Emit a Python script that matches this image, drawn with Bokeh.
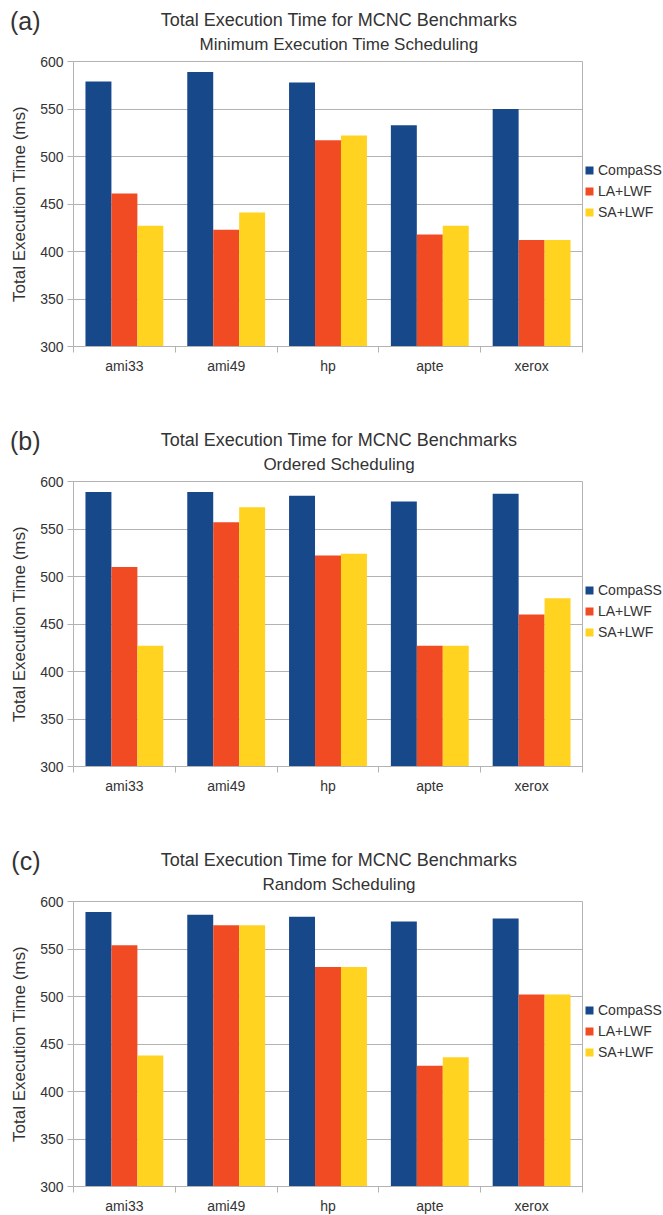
from bokeh.plotting import figure
from bokeh.models import Range1d, FixedTicker, Label, Legend, LegendItem
from bokeh.layouts import column
from bokeh.embed import file_html
from bokeh.resources import INLINE

categories = ["ami33", "ami49", "hp", "apte", "xerox"]
series_names = ["CompaSS", "LA+LWF", "SA+LWF"]
y_ticks = [300, 350, 400, 450, 500, 550, 600]

a_compass = [579, 589, 578, 533, 550]
a_la = [461, 423, 517, 418, 412]
a_sa = [427, 441, 522, 427, 412]

b_compass = [589, 589, 585, 579, 587]
b_la = [510, 557, 522, 427, 460]
b_sa = [427, 573, 524, 427, 477]

c_compass = [589, 586, 584, 579, 582]
c_la = [554, 575, 531, 427, 502]
c_sa = [438, 575, 531, 436, 502]

main_title = "Total Execution Time for MCNC Benchmarks"
panel_tags = ["(a)", "(b)", "(c)"]
subtitles = ["Minimum Execution Time Scheduling", "Ordered Scheduling", "Random Scheduling"]
y_label = "Total Execution Time (ms)"

colors = ["#17488a", "#f14b24", "#ffd320"]
GRID = "#b3b3b3"
TXT = "#333333"
FONT = "Liberation Sans"
LEFT = 73
FW = 509
RIGHT = 81
TH = 54


def make_title(tag, subtitle):
    t = figure(frame_width=FW, frame_height=TH,
               x_range=Range1d(LEFT, LEFT + FW), y_range=Range1d(TH, 0),
               x_axis_type=None,
               output_backend="svg", toolbar_location=None,
               min_border_left=LEFT, min_border_right=RIGHT,
               min_border_top=0, min_border_bottom=0,
               background_fill_color="white", border_fill_color="white")
    t.outline_line_color = None
    t.grid.visible = False
    ya = t.yaxis[0]
    ya.ticker = FixedTicker(ticks=[20])
    ya.major_label_overrides = {20: tag}
    ya.axis_line_color = None
    ya.major_tick_line_color = None
    ya.minor_tick_line_color = None
    ya.major_tick_in = 0
    ya.major_tick_out = 0
    ya.major_label_standoff = 33
    ya.major_label_text_font = FONT
    ya.major_label_text_font_size = "25px"
    ya.major_label_text_color = TXT
    t.add_layout(Label(x=338.5, y=19.5, text=main_title, text_align="center",
                       text_baseline="alphabetic", text_font=FONT,
                       text_font_size="18px", text_color=TXT))
    t.add_layout(Label(x=338.5, y=44, text=subtitle, text_align="center",
                       text_baseline="alphabetic", text_font=FONT,
                       text_font_size="17px", text_color=TXT))
    return t


def make_panel(series, bottom_border):
    p = figure(frame_width=FW, frame_height=285,
               x_range=Range1d(0, 5), y_range=Range1d(300, 600),
               output_backend="svg", toolbar_location=None,
               min_border_left=LEFT, min_border_right=RIGHT,
               min_border_top=61 - TH, min_border_bottom=bottom_border,
               background_fill_color="white", border_fill_color="white")
    p.outline_line_color = GRID
    p.outline_line_width = 1

    offsets = [-0.255, 0.0, 0.255]
    renderers = []
    for vals, off, col in zip(series, offsets, colors):
        xs = [i + 0.5 + off for i in range(len(categories))]
        r = p.vbar(x=xs, top=vals, bottom=300, width=0.255,
                   fill_color=col, line_color=None)
        renderers.append(r)

    p.xgrid.visible = False
    p.ygrid.grid_line_color = GRID
    p.ygrid.grid_line_width = 1
    p.ygrid.ticker = FixedTicker(ticks=y_ticks)

    ya = p.yaxis[0]
    ya.ticker = FixedTicker(ticks=y_ticks)
    ya.axis_line_color = GRID
    ya.major_tick_line_color = GRID
    ya.major_tick_in = 0
    ya.major_tick_out = 6
    ya.minor_tick_line_color = None
    ya.major_label_standoff = 4
    ya.major_label_text_font = FONT
    ya.major_label_text_font_size = "14px"
    ya.major_label_text_color = TXT
    ya.axis_label = y_label
    ya.axis_label_text_font = FONT
    ya.axis_label_text_font_size = "17px"
    ya.axis_label_text_font_style = "normal"
    ya.axis_label_text_color = TXT
    ya.axis_label_standoff = 8

    xa = p.xaxis[0]
    xa.ticker = FixedTicker(ticks=[i + 0.5 for i in range(len(categories))],
                            minor_ticks=list(range(len(categories) + 1)))
    xa.major_label_overrides = {i + 0.5: c for i, c in enumerate(categories)}
    xa.axis_line_color = GRID
    xa.major_tick_line_color = None
    xa.major_tick_in = 0
    xa.major_tick_out = 0
    xa.minor_tick_line_color = GRID
    xa.minor_tick_in = 0
    xa.minor_tick_out = 6
    xa.major_label_standoff = 5
    xa.major_label_text_font = FONT
    xa.major_label_text_font_size = "14px"
    xa.major_label_text_color = TXT

    legend = Legend(items=[LegendItem(label=n, renderers=[r]) for n, r in zip(series_names, renderers)],
                    location=(2, 124), orientation="vertical",
                    padding=0, margin=0, spacing=1,
                    label_height=20, glyph_width=10, glyph_height=10,
                    label_standoff=4, border_line_color=None,
                    background_fill_alpha=0,
                    label_text_font=FONT, label_text_font_size="14px",
                    label_text_color=TXT)
    p.add_layout(legend, "right")
    return p


ta = make_title(panel_tags[0], subtitles[0])
pa = make_panel([a_compass, a_la, a_sa], 74)
tb = make_title(panel_tags[1], subtitles[1])
pb = make_panel([b_compass, b_la, b_sa], 74)
tc = make_title(panel_tags[2], subtitles[2])
pc = make_panel([c_compass, c_la, c_sa], 29)

layout = column(ta, pa, tb, pb, tc, pc, spacing=0)
open("out.html", "w").write(file_html(layout, INLINE))
